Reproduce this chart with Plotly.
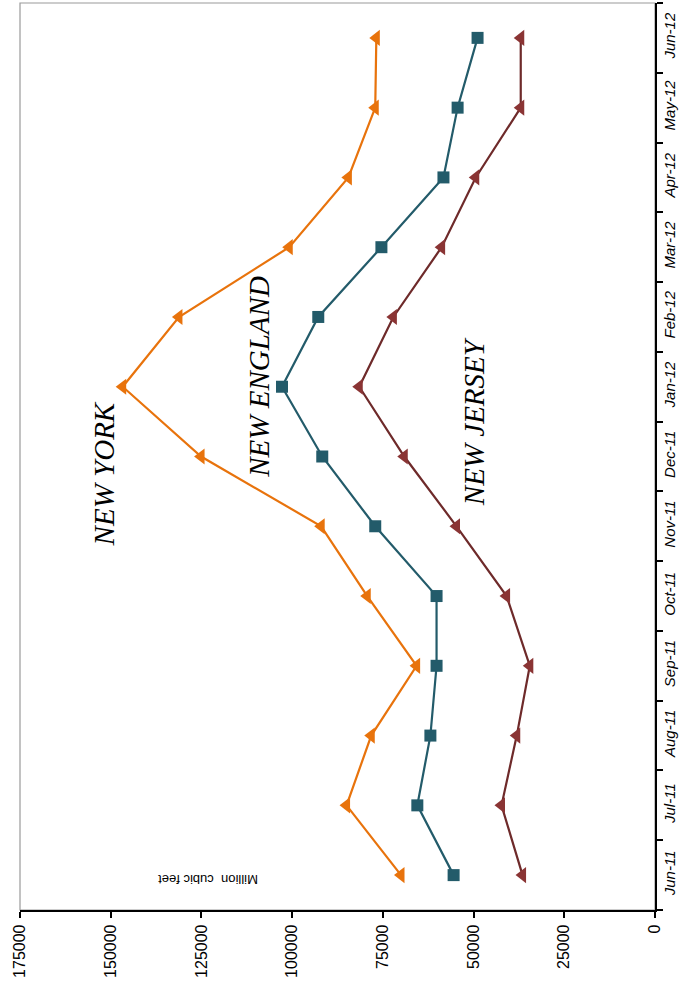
import plotly.graph_objects as go

months = ["Jun-11", "Jul-11", "Aug-11", "Sep-11", "Oct-11", "Nov-11", "Dec-11",
          "Jan-12", "Feb-12", "Mar-12", "Apr-12", "May-12", "Jun-12"]

new_york = [70000, 85000, 78200, 65700, 79300, 92000, 125100,
            146700, 131200, 100800, 84500, 77100, 76800]
new_england = [55500, 65500, 61900, 60200, 60200, 77100, 91700,
               102800, 92800, 75400, 58300, 54400, 48900]
new_jersey = [36500, 42300, 38100, 34500, 40900, 54700, 69100,
              81500, 72100, 58800, 49400, 37000, 37000]

value_ticks = [0, 25000, 50000, 75000, 100000, 125000, 150000, 175000]

series = [
    ("NEW YORK", new_york, "#E8730C", "#E8730C", "triangle-left", 14),
    ("NEW ENGLAND", new_england, "#235B6A", "#235B6A", "square", 12),
    ("NEW JERSEY", new_jersey, "#6E2A2A", "#8A3434", "triangle-left", 14),
]

fig = go.Figure()
for name, vals, lc, mc, sym, sz in series:
    fig.add_trace(go.Scatter(
        x=vals, y=months, mode="lines+markers", name=name,
        line=dict(color=lc, width=2.2),
        marker=dict(color=mc, size=sz, symbol=sym),
    ))

# series name labels placed beside each curve
labels = [("NEW YORK", 152000, "Dec-11", -0.25),
          ("NEW ENGLAND", 109000, "Jan-12", 0.15),
          ("NEW JERSEY", 50000, "Jan-12", -0.5)]
for text, xv, yc, off in labels:
    fig.add_annotation(
        x=xv, y=months.index(yc) + off, xref="x", yref="y", text=text,
        showarrow=False, textangle=-90, xanchor="center", yanchor="middle",
        font=dict(family="Liberation Serif", size=29, color="black", style="italic"),
    )

fig.add_annotation(
    x=0.296, y=0.033, xref="paper", yref="paper", text="Million  cubic feet",
    showarrow=False, textangle=180, xanchor="center", yanchor="middle",
    font=dict(family="Liberation Sans", size=13, color="black"),
)

# plot frame
fig.add_shape(type="rect", xref="paper", yref="paper", x0=0, y0=0, x1=1, y1=1,
              line=dict(color="#9a9a9a", width=1.2), layer="below")

fig.update_layout(
    width=680, height=995,
    margin=dict(l=20, r=25, t=3, b=85),
    paper_bgcolor="white", plot_bgcolor="white",
    showlegend=False,
    xaxis=dict(
        range=[175000, 0], tickvals=value_ticks,
        ticktext=[str(v) for v in value_ticks],
        tickangle=-90, ticks="outside", ticklen=6, tickwidth=1.5, tickcolor="black",
        showline=True, linecolor="black", linewidth=2.2,
        showgrid=False, zeroline=False,
        tickfont=dict(family="Liberation Sans", size=16, color="black"),
    ),
    yaxis=dict(
        side="right", type="category", categoryorder="array", categoryarray=months,
        range=[-0.5, 12.5], tickson="boundaries",
        tickangle=-90, ticks="outside", ticklen=6, tickwidth=1.5, tickcolor="black",
        showline=True, linecolor="black", linewidth=2.2,
        showgrid=False, zeroline=False,
        tickfont=dict(family="Liberation Sans", size=15, color="black", style="italic"),
    ),
)

fig.write_html("out.html")
